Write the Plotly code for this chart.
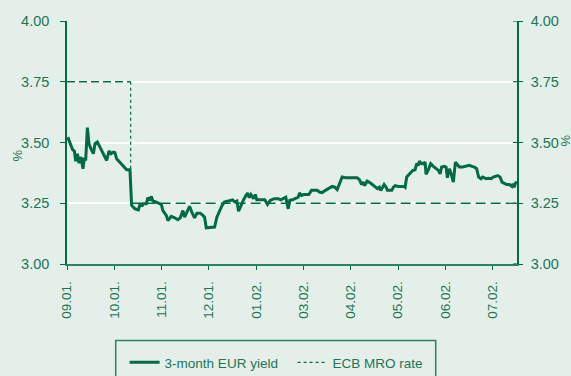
import plotly.graph_objects as go

# Month tick labels (MM.YY.) and their positions on the month axis
tick_pos = [0, 1, 2, 3, 4, 5, 6, 7, 8, 9]
tick_labels = ["09.01.", "10.01.", "11.01.", "12.01.", "01.02.",
               "03.02.", "04.02.", "05.02.", "06.02.", "07.02."]

# 3-month EUR yield, % (x in months from the first tick)
yield_x = [
    0.015, 0.063, 0.120, 0.156, 0.184, 0.220, 0.254, 0.296, 0.338, 0.368,
    0.395, 0.431, 0.465, 0.507, 0.558, 0.592, 0.642, 0.697, 0.769, 0.839,
    0.887, 0.930, 0.980, 1.014, 1.050, 1.120, 1.192, 1.261, 1.331, 1.367,
    1.437, 1.509, 1.550, 1.585, 1.606, 1.678, 1.711, 1.747, 1.783, 1.817,
    1.889, 1.959, 1.995, 2.028, 2.100, 2.134, 2.206, 2.276, 2.345, 2.396,
    2.451, 2.487, 2.523, 2.592, 2.649, 2.698, 2.747, 2.818, 2.873, 2.909,
    2.945, 3.051, 3.121, 3.169, 3.226, 3.269, 3.326, 3.395, 3.452, 3.501,
    3.550, 3.592, 3.628, 3.676, 3.733, 3.782, 3.818, 3.854, 3.888, 3.945,
    3.981, 4.014, 4.086, 4.135, 4.183, 4.240, 4.297, 4.382, 4.467, 4.521,
    4.593, 4.627, 4.678, 4.712, 4.769, 4.838, 4.889, 4.917, 4.959, 5.007,
    5.113, 5.170, 5.290, 5.339, 5.396, 5.466, 5.536, 5.607, 5.662, 5.713,
    5.819, 5.889, 6.136, 6.184, 6.227, 6.262, 6.296, 6.347, 6.417, 6.486,
    6.537, 6.565, 6.607, 6.634, 6.676, 6.706, 6.748, 6.776, 6.867, 6.903,
    6.939, 7.008, 7.129, 7.150, 7.184, 7.255, 7.310, 7.361, 7.395, 7.431,
    7.452, 7.501, 7.536, 7.572, 7.593, 7.642, 7.691, 7.748, 7.805, 7.854,
    7.890, 7.923, 7.974, 8.016, 8.044, 8.086, 8.134, 8.170, 8.213, 8.240,
    8.297, 8.367, 8.439, 8.508, 8.565, 8.614, 8.663, 8.705, 8.756, 8.789,
    8.861, 8.916, 8.967, 9.015, 9.106, 9.157, 9.199, 9.241, 9.296, 9.353,
    9.410, 9.432, 9.456, 9.486, 9.516,
]
yield_pct = [
    3.522, 3.497, 3.470, 3.465, 3.423, 3.454, 3.415, 3.440, 3.392, 3.437,
    3.426, 3.561, 3.495, 3.474, 3.454, 3.495, 3.502, 3.481, 3.454, 3.426,
    3.465, 3.454, 3.460, 3.458, 3.433, 3.419, 3.402, 3.388, 3.388, 3.241,
    3.227, 3.223, 3.250, 3.237, 3.248, 3.248, 3.273, 3.262, 3.278, 3.259,
    3.255, 3.250, 3.245, 3.220, 3.200, 3.179, 3.196, 3.190, 3.182, 3.190,
    3.220, 3.193, 3.207, 3.237, 3.209, 3.190, 3.209, 3.209, 3.200, 3.193,
    3.149, 3.149, 3.152, 3.193, 3.223, 3.237, 3.255, 3.259, 3.262, 3.264,
    3.255, 3.259, 3.217, 3.241, 3.264, 3.282, 3.292, 3.273, 3.286, 3.269,
    3.286, 3.264, 3.264, 3.262, 3.264, 3.245, 3.262, 3.269, 3.269, 3.264,
    3.273, 3.275, 3.227, 3.262, 3.264, 3.270, 3.275, 3.292, 3.282, 3.286,
    3.286, 3.303, 3.303, 3.296, 3.294, 3.303, 3.310, 3.319, 3.316, 3.306,
    3.358, 3.355, 3.355, 3.347, 3.327, 3.337, 3.323, 3.341, 3.333, 3.323,
    3.316, 3.310, 3.316, 3.303, 3.316, 3.327, 3.316, 3.303, 3.303, 3.316,
    3.322, 3.319, 3.319, 3.316, 3.358, 3.374, 3.385, 3.388, 3.413, 3.406,
    3.423, 3.413, 3.413, 3.419, 3.369, 3.388, 3.413, 3.402, 3.392, 3.385,
    3.371, 3.399, 3.402, 3.399, 3.355, 3.392, 3.364, 3.337, 3.419, 3.413,
    3.399, 3.399, 3.402, 3.406, 3.402, 3.399, 3.392, 3.358, 3.351, 3.358,
    3.351, 3.353, 3.351, 3.358, 3.364, 3.358, 3.337, 3.333, 3.327, 3.327,
    3.319, 3.330, 3.316, 3.333, 3.337,
]

# ECB main refinancing rate, %: level before and after the cut
mro_before = 3.75
mro_after = 3.25
mro_cut_x = 1.346
x_end = 9.516

GREEN = "#006b45"
TEXT = "#1b7654"
BG = "#e5efea"
FONT = "Liberation Sans Narrow, Arial Narrow, Liberation Sans, Arial, sans-serif"

fig = go.Figure()

# MRO rate: horizontal levels dashed, the step itself dotted
fig.add_trace(go.Scatter(
    x=[0, mro_cut_x], y=[mro_before, mro_before], mode="lines",
    line=dict(color=GREEN, width=1.3, dash="8px,4px"), showlegend=False,
    hoverinfo="skip"))
fig.add_trace(go.Scatter(
    x=[mro_cut_x, x_end], y=[mro_after, mro_after], mode="lines",
    line=dict(color=GREEN, width=1.3, dash="10px,5px"), showlegend=False,
    hoverinfo="skip"))
fig.add_trace(go.Scatter(
    x=[mro_cut_x, mro_cut_x], y=[mro_before, mro_after], mode="lines",
    line=dict(color=GREEN, width=1.2, dash="dot"), showlegend=False,
    hoverinfo="skip"))

fig.add_trace(go.Scatter(
    x=yield_x, y=yield_pct, mode="lines", name="3-month EUR yield",
    line=dict(color=GREEN, width=3)))

# legend entry for the MRO rate
fig.add_trace(go.Scatter(
    x=[None], y=[None], mode="lines", name="ECB MRO rate",
    line=dict(color=GREEN, width=1.2, dash="dot")))

# mirrored right-hand scale
fig.add_trace(go.Scatter(x=[None], y=[None], yaxis="y2", showlegend=False))

y_ticks = [3.00, 3.25, 3.50, 3.75, 4.00]
y_text = ["3.00", "3.25", "3.50", "3.75", "4.00"]

fig.update_layout(
    width=571, height=376,
    margin=dict(l=67, r=54, t=21, b=112),
    paper_bgcolor=BG, plot_bgcolor=BG,
    font=dict(family=FONT, size=14.5, color=TEXT),
    xaxis=dict(
        range=[0, x_end], tickvals=tick_pos, ticktext=tick_labels,
        tickangle=-90, ticks="outside", ticklen=4, tickcolor=GREEN,
        tickfont=dict(size=13.5),
        showline=True, linecolor="#2d8063", linewidth=1.5,
        showgrid=False, zeroline=False, ticklabelstandoff=6,
        automargin=False,
    ),
    yaxis=dict(
        range=[3.0, 4.0], tickvals=y_ticks, ticktext=y_text,
        ticks="outside", ticklen=5, tickcolor=GREEN,
        showline=True, linecolor=GREEN, linewidth=1.5,
        showgrid=True, gridcolor="#ffffff", gridwidth=1.6,
        zeroline=False, ticklabelstandoff=8, automargin=False,
    ),
    yaxis2=dict(
        range=[3.0, 4.0], tickvals=y_ticks, ticktext=y_text,
        overlaying="y", side="right", anchor="x",
        ticks="outside", ticklen=4, tickcolor=GREEN,
        showline=True, linecolor=GREEN, linewidth=1.5,
        showgrid=False, zeroline=False, ticklabelstandoff=5,
        automargin=False,
    ),
    showlegend=True,
    legend=dict(
        orientation="h", x=0.128, xref="paper",
        y=1 - 347 / 376, yref="container", xanchor="left", yanchor="top",
        bgcolor="rgba(0,0,0,0)", borderwidth=0,
        entrywidthmode="pixels", entrywidth=123,
        font=dict(family=FONT, size=13.5, color=TEXT),
    ),
    shapes=[
        # legend frame
        dict(type="rect", xref="paper", yref="paper",
             x0=(115.7 - 67) / 450, x1=(435.7 - 67) / 450,
             y0=(263.5 - 390) / 243, y1=(263.5 - 340) / 243,
             line=dict(color="#2d8063", width=1.5), fillcolor="rgba(0,0,0,0)"),
        # inward halves of the right-hand ticks
        *[dict(type="line", xref="paper", yref="y", x0=1, x1=1 - 4 / 450,
               y0=v, y1=v, line=dict(color=GREEN, width=1.2)) for v in y_ticks],
    ],
    annotations=[
        dict(text="%", xref="paper", yref="paper", x=-50 / 450, y=(263.5 - 155) / 243,
             xanchor="center", yanchor="middle",
             showarrow=False, textangle=-90, font=dict(size=13, color=TEXT)),
        dict(text="%", xref="paper", yref="paper", x=1 + 48 / 450, y=(263.5 - 140) / 243,
             xanchor="center", yanchor="middle",
             showarrow=False, textangle=-90, font=dict(size=13, color=TEXT)),
    ],
)

fig.write_html("out.html")
